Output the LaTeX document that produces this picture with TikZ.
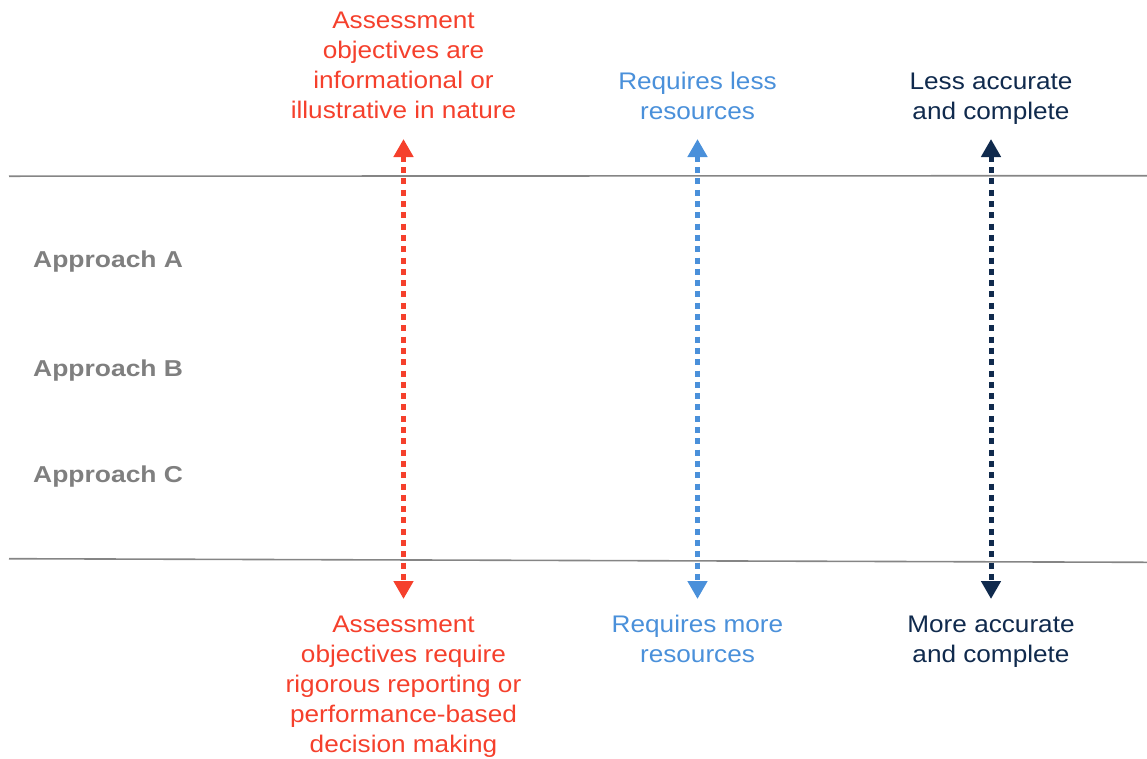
\documentclass[tikz,border=0pt]{standalone}
\usepackage{fontspec}
\setmainfont{Liberation Sans}
\newfontfamily\labfont[FakeStretch=1.09]{Liberation Sans}
\newfontfamily\grayfont[FakeStretch=1.15]{Liberation Sans}
\usetikzlibrary{arrows.meta}
\definecolor{redc}{HTML}{F5402C}
\definecolor{bluec}{HTML}{4A90DA}
\definecolor{navyc}{HTML}{102A4D}
\definecolor{graytxt}{HTML}{7F7F7F}
\definecolor{sepgray}{HTML}{858585}
\begin{document}
\begin{tikzpicture}[x=1pt,y=-1pt,
  lab/.style={align=center, inner sep=0pt, font=\labfont\fontsize{24}{30}\selectfont, anchor=base},
  appr/.style={anchor=base west, inner sep=0pt, text=graytxt, font=\grayfont\bfseries\fontsize{23}{27}\selectfont},
  sepline/.style={draw=sepgray, line width=1.6pt},
  axisarrow/.style={line width=5pt, dash pattern=on 6pt off 5.3pt,
    {Triangle[width=19pt,length=18pt]}-{Triangle[width=19pt,length=18pt]}}]
\path[use as bounding box] (0,0) rectangle (1147,758);

% separator lines
\coordinate (tl) at (9,176.2);
\coordinate (tr) at (1147,175.7);
\coordinate (bl) at (9,558.7);
\coordinate (br) at (1147,562.3);
\draw[sepline] (tl) -- (tr);
\draw[sepline] (bl) -- (br);

% approach labels
\node[appr] (apA) at (33,267.5) {Approach A};
\node[appr] (apB) at (33,376) {Approach B};
\node[appr] (apC) at (33,482) {Approach C};

% top labels (anchor = baseline of last line)
\node[lab, text=redc] (rtop) at (403.5,118) {Assessment\\objectives are\\informational or\\illustrative in nature};
\node[lab, text=bluec] (btop) at (697.5,119) {Requires less\\resources};
\node[lab, text=navyc] (ntop) at (991,119) {Less accurate\\and complete};

% bottom labels
\node[lab, text=redc] (rbot) at (403.5,752) {Assessment\\objectives require\\rigorous reporting or\\performance-based\\decision making};
\node[lab, text=bluec] (bbot) at (697.5,662) {Requires more\\resources};
\node[lab, text=navyc] (nbot) at (991,662) {More accurate\\and complete};

% arrow ends
\coordinate (ra) at (403.5,139);
\coordinate (rb) at (403.5,599);
\coordinate (ba) at (697.5,139);
\coordinate (bb) at (697.5,599);
\coordinate (na) at (991,139);
\coordinate (nb) at (991,599);
\draw[axisarrow, redc] (ra) -- (rb);
\draw[axisarrow, bluec] (ba) -- (bb);
\draw[axisarrow, navyc] (na) -- (nb);
\end{tikzpicture}
\end{document}
